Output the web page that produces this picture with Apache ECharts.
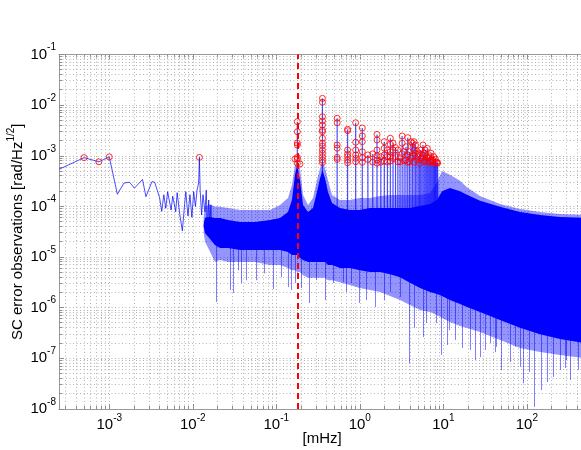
<!DOCTYPE html>
<html>
<head>
<meta charset="utf-8">
<script src="https://cdn.jsdelivr.net/npm/echarts@6/dist/echarts.min.js"></script>
<style>
  html, body { margin: 0; padding: 0; background: #ffffff; }
  #chart { width: 581px; height: 450px; }
</style>
</head>
<body>
<div id="chart"></div>
<script>
// ---- Low-frequency bins of the spectrum (frequency in mHz, amplitude in rad/Hz^1/2)
const lowFreq = [2.5e-4, 5e-4, 7.5e-4, 1e-3, 1.25e-3, 1.5e-3, 1.75e-3, 2e-3, 2.5e-3, 2.75e-3,
  3.25e-3, 3.5e-3, 4e-3, 4.25e-3, 4.5e-3, 4.75e-3, 5e-3, 5.5e-3, 5.75e-3, 6.25e-3,
  6.5e-3, 7e-3, 7.5e-3, 8e-3, 8.25e-3, 8.75e-3, 9.25e-3, 9.75e-3, 1.025e-2, 1.075e-2,
  1.125e-2, 1.175e-2, 1.2e-2, 1.225e-2, 1.275e-2, 1.325e-2, 1.4e-2, 1.45e-2, 1.5e-2, 1.55e-2,
  1.6e-2, 1.65e-2, 1.7e-2];
const lowAmp = [5.4e-4, 9.2e-4, 7.6e-4, 9.5e-4, 1.74e-4, 2.9e-4, 3.0e-4, 2.3e-4, 3.4e-4, 1.56e-4,
  3.1e-4, 3.0e-4, 1.5e-4, 8.0e-5, 1.7e-4, 9.2e-5, 1.95e-4, 8.5e-5, 1.6e-4, 7.9e-5,
  1.87e-4, 6.8e-5, 3.3e-5, 1.15e-4, 1.95e-4, 6.5e-5, 1.7e-4, 6.1e-5, 1.95e-4, 1.0e-4,
  2.1e-4, 2.9e-4, 9.3e-4, 2.1e-4, 6.8e-5, 1.7e-4, 7.8e-5, 2.1e-4, 3.1e-5, 1.34e-4,
  4.3e-5, 1.07e-4, 2.2e-5];

// ---- Dense part of the spectrum: envelope of the solid core and of the lighter fringe
const bandFreq = [0.0135, 0.014, 0.016, 0.0184, 0.0212, 0.0264, 0.0368, 0.0556, 0.0841, 0.111,
  0.138, 0.154, 0.1675, 0.1784, 0.192, 0.209, 0.24, 0.275, 0.307, 0.334,
  0.357, 0.383, 0.416, 0.465, 0.579, 0.763, 1.0, 1.325, 1.746, 2.3,
  3.03, 3.99, 5.26, 6.93, 8.4, 9.65, 12.0, 15.85, 19.2, 27.5,
  47.75, 82.9, 143.9, 249.7, 500];
const coreTop = [4.5e-5, 6.0e-5, 6.2e-5, 5.9e-5, 5.9e-5, 5.4e-5, 4.9e-5, 4.9e-5, 5.4e-5, 5.9e-5,
  7.8e-5, 1.34e-4, 4.2e-4, 6.6e-4, 3.3e-4, 1.07e-4, 7.8e-5, 9.3e-5, 1.93e-4, 3.6e-4,
  5.2e-4, 3.6e-4, 1.93e-4, 1.17e-4, 9.3e-5, 8.5e-5, 8.5e-5, 9.3e-5, 9.3e-5, 9.3e-5,
  9.3e-5, 9.3e-5, 1.02e-4, 1.12e-4, 1.34e-4, 2.0e-4, 2.3e-4, 2.0e-4, 1.7e-4, 1.3e-4,
  9.8e-5, 7.8e-5, 6.8e-5, 6.2e-5, 5.9e-5];
const coreBottom = [4.0e-5, 3.0e-5, 2.3e-5, 1.73e-5, 1.51e-5, 1.51e-5, 1.38e-5, 1.38e-5, 1.38e-5, 1.38e-5,
  1.26e-5, 1.1e-5, 1.1e-5, 1.1e-5, 9.6e-6, 8.75e-6, 8.0e-6, 8.0e-6, 8.0e-6, 8.0e-6,
  8.0e-6, 8.0e-6, 7.0e-6, 7.0e-6, 6.1e-6, 6.1e-6, 5.5e-6, 5.1e-6, 5.1e-6, 4.6e-6,
  4.0e-6, 3.1e-6, 2.45e-6, 2.04e-6, 1.87e-6, 1.7e-6, 1.42e-6, 1.18e-6, 1.03e-6, 8.2e-7,
  5.7e-7, 4.0e-7, 3.0e-7, 2.4e-7, 2.0e-7];
const fringeTop = [6.0e-5, 1.0e-4, 1.1e-4, 1.0e-4, 9.8e-5, 9.3e-5, 8.5e-5, 8.5e-5, 8.5e-5, 1.07e-4,
  1.47e-4, 2.65e-4, 6.6e-4, 8.2e-4, 5.7e-4, 1.68e-4, 1.07e-4, 1.47e-4, 3.3e-4, 5.7e-4,
  8.2e-4, 5.7e-4, 3.3e-4, 1.68e-4, 1.34e-4, 1.34e-4, 1.47e-4, 1.47e-4, 1.6e-4, 1.68e-4,
  1.68e-4, 1.68e-4, 1.68e-4, 1.84e-4, 3.0e-4, 5.0e-4, 4.2e-4, 3.2e-4, 2.4e-4, 1.6e-4,
  1.12e-4, 8.9e-5, 7.8e-5, 7.1e-5, 6.8e-5];
const fringeBottom = [3.0e-5, 2.0e-5, 1.3e-5, 8.0e-6, 8.75e-6, 8.0e-6, 8.0e-6, 8.0e-6, 7.0e-6, 7.0e-6,
  6.1e-6, 5.5e-6, 5.5e-6, 5.1e-6, 5.1e-6, 4.4e-6, 3.9e-6, 3.9e-6, 3.9e-6, 3.9e-6,
  3.9e-6, 3.9e-6, 3.5e-6, 3.5e-6, 3.2e-6, 2.8e-6, 2.45e-6, 2.24e-6, 2.04e-6, 1.7e-6,
  1.42e-6, 1.13e-6, 9.0e-7, 8.2e-7, 7.2e-7, 6.25e-7, 5.2e-7, 4.34e-7, 3.97e-7, 3.3e-7,
  2.3e-7, 1.6e-7, 1.33e-7, 1.16e-7, 1.0e-7];

// ---- Deep downward excursions below the dense part
const dipFreq = [0.0193, 0.0279, 0.0305, 0.0351, 0.0385, 0.0442, 0.0582, 0.0732, 0.0921, 0.116,
  0.139, 0.153, 0.1675, 0.201, 0.253, 0.305, 0.383, 0.482, 0.634, 0.697,
  0.80, 1.0, 1.21, 1.56, 2.0, 2.3, 3.03, 3.99, 4.58, 5.76,
  6.33, 8.18, 9.57, 11.07, 12.0, 13.8, 17.2, 20.9, 24.0, 27.5,
  31.6, 36.3, 41.6, 43.6, 50.0, 62.9, 72.2, 82.9, 90.8, 109,
  122, 151, 175, 208, 250, 287, 300, 329, 414];
const dipAmp = [1.3e-6, 2.24e-6, 1.95e-6, 5.5e-6, 3.07e-6, 3.5e-6, 3.5e-6, 4.8e-6, 2.34e-6, 4.0e-6,
  2.56e-6, 2.24e-6, 3.07e-6, 2.45e-6, 1.24e-6, 3.5e-6, 1.42e-6, 3.07e-6, 3.2e-6, 2.04e-6,
  3.07e-6, 1.24e-6, 1.42e-6, 1.03e-6, 1.42e-6, 2.04e-6, 1.63e-6, 8.1e-8, 4.0e-7, 2.63e-7,
  5.0e-7, 5.0e-7, 1.16e-7, 1.83e-7, 3.6e-7, 2.3e-7, 1.6e-7, 1.46e-7, 9.3e-8, 1.06e-7,
  1.46e-7, 2.0e-7, 1.33e-7, 1.69e-7, 5.9e-8, 8.5e-8, 1.69e-7, 6.8e-8, 3.26e-8, 5.4e-8,
  1.1e-8, 2.37e-8, 3.4e-8, 4.3e-8, 5.9e-8, 6.45e-8, 9.3e-8, 3.74e-8, 5.9e-8];

// ---- Harmonic lines and the detections flagged on each of them
const harmonicFreq = [0.1785, 0.357, 0.5355, 0.714, 0.8925, 1.071, 1.2495, 1.428, 1.6065, 1.785,
  1.9635, 2.142, 2.3205, 2.499, 2.6775, 2.856, 3.0345, 3.213, 3.3915, 3.57,
  3.7485, 3.927, 4.1055, 4.284, 4.4625, 4.641, 4.8195, 4.998, 5.1765, 5.355,
  5.5335, 5.712, 5.8905, 6.069, 6.2475, 6.426, 6.6045, 6.783, 6.9615, 7.14,
  7.3185, 7.497, 7.6755, 7.854, 8.0325, 8.211, 8.3895, 8.568];
const harmonicDetections = [
  [4.71e-3, 2.99e-3, 1.79e-3, 1.63e-3, 9.3e-4, 8.6e-4, 7.1e-4],
  [1.36e-2, 1.14e-2, 5.9e-3, 4.87e-3, 4.06e-3, 3.23e-3, 2.99e-3, 2.22e-3, 1.77e-3, 1.56e-3, 1.30e-3, 1.12e-3, 9.6e-4, 8.25e-4, 7.3e-4],
  [5.5e-3, 4.5e-3, 1.63e-3, 1.41e-3, 9.3e-4, 8.5e-4],
  [3.34e-3, 3.13e-3, 1.30e-3, 1.09e-3, 9.6e-4, 8.25e-4, 7.3e-4],
  [4.5e-3, 1.85e-3, 1.30e-3, 1.04e-3, 8.9e-4, 7.64e-4],
  [3.54e-3, 2.46e-3, 1.90e-3, 1.20e-3, 9.16e-4, 7.43e-4],
  [1.04e-3, 8.5e-4],
  [1.09e-3, 7.5e-4],
  [2.64e-3, 2.05e-3, 1.30e-3, 1.0e-3, 8.25e-4, 7.15e-4],
  [9.6e-4, 7.5e-4],
  [1.90e-3, 1.41e-3, 1.04e-3, 7.9e-4],
  [1.30e-3, 9.6e-4, 7.5e-4],
  [2.22e-3, 1.69e-3, 1.2e-3, 9.6e-4, 7.9e-4],
  [1.77e-3, 1.30e-3, 8.9e-4],
  [1.45e-3, 9.6e-4],
  [1.30e-3, 7.6e-4],
  [9.2e-4, 7.6e-4],
  [2.46e-3, 1.77e-3, 1.1e-3],
  [1.20e-3, 8.0e-4],
  [1.51e-3, 8.25e-4],
  [2.28e-3, 1.04e-3, 7.4e-4],
  [1.2e-3, 7.64e-4],
  [1.90e-3, 9.0e-4],
  [1.77e-3, 1.0e-3],
  [1.90e-3, 1.3e-3, 7.5e-4],
  [1.63e-3, 1.12e-3],
  [1.25e-3, 8.25e-4],
  [9.6e-4],
  [1.1e-3, 7.1e-4],
  [1.30e-3, 8.6e-4],
  [9.0e-4],
  [1.63e-3, 1.0e-3],
  [1.12e-3, 7.6e-4],
  [1.3e-3, 8.25e-4],
  [9.6e-4],
  [1.4e-3, 9.0e-4],
  [7.64e-4],
  [9.2e-4],
  [1.0e-3, 7.4e-4],
  [1.12e-3, 8.2e-4],
  [7.6e-4],
  [8.25e-4],
  [9.6e-4],
  [7.1e-4],
  [8.6e-4],
  [7.5e-4],
  [7.3e-4],
  [7.2e-4]
];

// ---- Other flagged points (low-frequency bins and side lines next to the first harmonic)
const extraDetectFreq = [5e-4, 7.5e-4, 1e-3, 1.2e-2, 0.167, 0.192];
const extraDetectAmp = [9.2e-4, 7.6e-4, 9.5e-4, 9.3e-4, 8.6e-4, 6.9e-4];

// ---- Reference frequency marked with the dashed line
const markerFreq = 0.18;

// ---- Axis ranges and decades carrying a label
const xRange = [2.5e-4, 500];
const yRange = [1e-8, 1e-1];
const xDecades = [-4, -3, -2, -1, 0, 1, 2];
const yDecades = [-8, -7, -6, -5, -4, -3, -2];

const FONT = '"Liberation Sans", Arial, Helvetica, sans-serif';
const BLUE = '#0000ff';
const GRID_COLOR = '#b4b4b4';
const TICK_COLOR = '#8c8c8c';
const SPIKE_BASE = 5e-5;   // spikes rise out of the dense core
const DIP_BASE = 2e-5;     // dips start inside the dense core

// Minor grid positions (2..9 within each decade)
function minorPositions(decades, range) {
  const out = [];
  decades.forEach(function (e) {
    for (let m = 2; m <= 9; m++) {
      const v = m * Math.pow(10, e);
      if (v > range[0] * 1.0001 && v < range[1] * 0.9999) out.push(v);
    }
  });
  return out;
}
const minorX = minorPositions(xDecades, xRange);
const minorY = minorPositions(yDecades, yRange);

function powerLabel(value) {
  const e = Math.log10(value);
  const r = Math.round(e);
  if (Math.abs(e - r) > 1e-6) return '';
  return '{b|10}{sup|' + r + '}';
}
const labelRich = {
  b: { fontSize: 15, lineHeight: 24, verticalAlign: 'middle', fontFamily: FONT, color: '#000' },
  sup: { fontSize: 10, lineHeight: 10, verticalAlign: 'top', fontFamily: FONT, color: '#000' }
};

function crisp(v) { return Math.round(v - 0.5) + 0.5; }

// Filled polygon between two envelopes
function envelopeRenderer(top, bottom, fill) {
  return function (params, api) {
    const pts = [];
    for (let i = 0; i < bandFreq.length; i++) pts.push(api.coord([bandFreq[i], top[i]]));
    for (let i = bandFreq.length - 1; i >= 0; i--) pts.push(api.coord([bandFreq[i], bottom[i]]));
    return { type: 'polygon', shape: { points: pts }, style: { fill: fill } };
  };
}

const detections = [];
harmonicFreq.forEach(function (f, i) {
  harmonicDetections[i].forEach(function (a) { detections.push([f, a]); });
});
extraDetectFreq.forEach(function (f, i) { detections.push([f, extraDetectAmp[i]]); });

const spikeData = harmonicFreq.map(function (f, i) {
  return [f, Math.max.apply(null, harmonicDetections[i])];
});
const dipData = dipFreq.map(function (f, i) { return [f, dipAmp[i]]; });
const lowData = lowFreq.map(function (f, i) { return [f, lowAmp[i]]; });

const chart = echarts.init(document.getElementById('chart'));

chart.setOption({
  animation: false,
  backgroundColor: '#ffffff',
  grid: { left: 59, top: 54.5, right: -4.2, bottom: 41, containLabel: false, outerBoundsMode: 'none' },
  xAxis: [{
    type: 'log', logBase: 10, min: xRange[0], max: xRange[1], position: 'bottom',
    axisLine: { lineStyle: { color: '#999999', width: 1 } },
    axisTick: { inside: true, length: 5, lineStyle: { color: TICK_COLOR } },
    axisLabel: { formatter: powerLabel, rich: labelRich, margin: 4, color: '#000' },
    splitLine: { show: true, lineStyle: { color: GRID_COLOR, width: 1, type: [1, 2.5] } },
    minorTick: { show: false },
    name: '[mHz]', nameLocation: 'middle', nameGap: 22, nameMoveOverlap: false,
    nameTextStyle: { fontSize: 15, fontFamily: FONT, color: '#000', lineHeight: 16 }
  }, {
    type: 'log', logBase: 10, min: xRange[0], max: xRange[1], position: 'top',
    axisLine: { lineStyle: { color: '#999999', width: 1 } },
    axisTick: { inside: true, length: 5, lineStyle: { color: TICK_COLOR } },
    axisLabel: { show: false },
    splitLine: { show: false }
  }],
  yAxis: [{
    type: 'log', logBase: 10, min: yRange[0], max: yRange[1],
    axisLine: { show: true, lineStyle: { color: '#999999', width: 1 } },
    axisTick: { show: true, inside: true, length: 5, lineStyle: { color: TICK_COLOR } },
    axisLabel: { formatter: powerLabel, rich: labelRich, margin: 3, color: '#000' },
    splitLine: { show: true, lineStyle: { color: GRID_COLOR, width: 1, type: [1, 2.5] } },
    name: '{b|SC error observations [rad/Hz}{sup|1/2}{b|]}',
    nameLocation: 'middle', nameRotate: 90, nameGap: 29, nameMoveOverlap: false,
    nameTextStyle: {
      fontSize: 15, fontFamily: FONT, color: '#000', lineHeight: 24,
      rich: {
        b: { fontSize: 15, lineHeight: 24, verticalAlign: 'middle', fontFamily: FONT, color: '#000' },
        sup: { fontSize: 10, lineHeight: 10, verticalAlign: 'top', fontFamily: FONT, color: '#000' }
      }
    }
  }],
  series: [
    {
      // minor vertical grid lines with their ticks
      type: 'custom', z: 1, silent: true,
      data: minorX.map(function (v) { return [v, 1e-4]; }),
      renderItem: function (params, api) {
        const cs = params.coordSys;
        const x = crisp(api.coord([api.value(0), 1e-4])[0]);
        const y0 = cs.y, y1 = cs.y + cs.height;
        return { type: 'group', children: [
          { type: 'line', shape: { x1: x, y1: y0, x2: x, y2: y1 }, style: { stroke: GRID_COLOR, lineWidth: 1, lineDash: [1, 2.5] } },
          { type: 'line', shape: { x1: x, y1: y1, x2: x, y2: y1 - 3 }, style: { stroke: TICK_COLOR, lineWidth: 1 } },
          { type: 'line', shape: { x1: x, y1: y0, x2: x, y2: y0 + 3 }, style: { stroke: TICK_COLOR, lineWidth: 1 } }
        ] };
      }
    },
    {
      // minor horizontal grid lines with their ticks
      type: 'custom', z: 1, silent: true,
      data: minorY.map(function (v) { return [1, v]; }),
      renderItem: function (params, api) {
        const cs = params.coordSys;
        const y = crisp(api.coord([1, api.value(1)])[1]);
        const x0 = cs.x, x1 = cs.x + cs.width;
        return { type: 'group', children: [
          { type: 'line', shape: { x1: x0, y1: y, x2: x1, y2: y }, style: { stroke: GRID_COLOR, lineWidth: 1, lineDash: [1, 2.5] } },
          { type: 'line', shape: { x1: x0, y1: y, x2: x0 + 3, y2: y }, style: { stroke: TICK_COLOR, lineWidth: 1 } }
        ] };
      }
    },
    {
      // lighter fringe of the dense spectrum
      type: 'custom', z: 2, silent: true,
      data: [[bandFreq[0], fringeTop[0]]],
      renderItem: envelopeRenderer(fringeTop, fringeBottom, 'rgba(0,0,255,0.42)')
    },
    {
      // solid core of the dense spectrum
      type: 'custom', z: 3, silent: true,
      data: [[bandFreq[0], coreTop[0]]],
      renderItem: envelopeRenderer(coreTop, coreBottom, BLUE)
    },
    {
      // downward excursions
      type: 'custom', z: 3, silent: true,
      data: dipData,
      renderItem: function (params, api) {
        const f = api.value(0);
        const p0 = api.coord([f, DIP_BASE]);
        const p1 = api.coord([f, api.value(1)]);
        const x = crisp(p0[0]);
        return { type: 'line', shape: { x1: x, y1: p0[1], x2: x, y2: p1[1] },
          style: { stroke: 'rgba(0,0,255,0.5)', lineWidth: 1 } };
      }
    },
    {
      // harmonic lines rising out of the noise
      type: 'custom', z: 4, silent: true,
      data: spikeData,
      renderItem: function (params, api) {
        const f = api.value(0);
        const p0 = api.coord([f, SPIKE_BASE]);
        const p1 = api.coord([f, api.value(1)]);
        return { type: 'line', shape: { x1: p0[0], y1: p0[1], x2: p1[0], y2: p1[1] },
          style: { stroke: 'rgba(0,0,255,0.7)', lineWidth: 1.2 } };
      }
    },
    {
      // resolved low-frequency bins
      type: 'line', z: 4, silent: true, showSymbol: false,
      data: lowData,
      lineStyle: { color: BLUE, width: 1, opacity: 0.7 }
    },
    {
      // flagged points
      type: 'scatter', z: 5, silent: true,
      data: detections,
      symbol: 'circle', symbolSize: 6,
      itemStyle: { color: 'rgba(0,0,0,0)', borderColor: '#ff0000', borderWidth: 1 },
      markLine: {
        silent: true, symbol: ['none', 'none'], label: { show: false },
        lineStyle: { color: '#ff0000', width: 2, type: [6, 4] },
        data: [{ xAxis: markerFreq }]
      }
    }
  ]
});
</script>
</body>
</html>
